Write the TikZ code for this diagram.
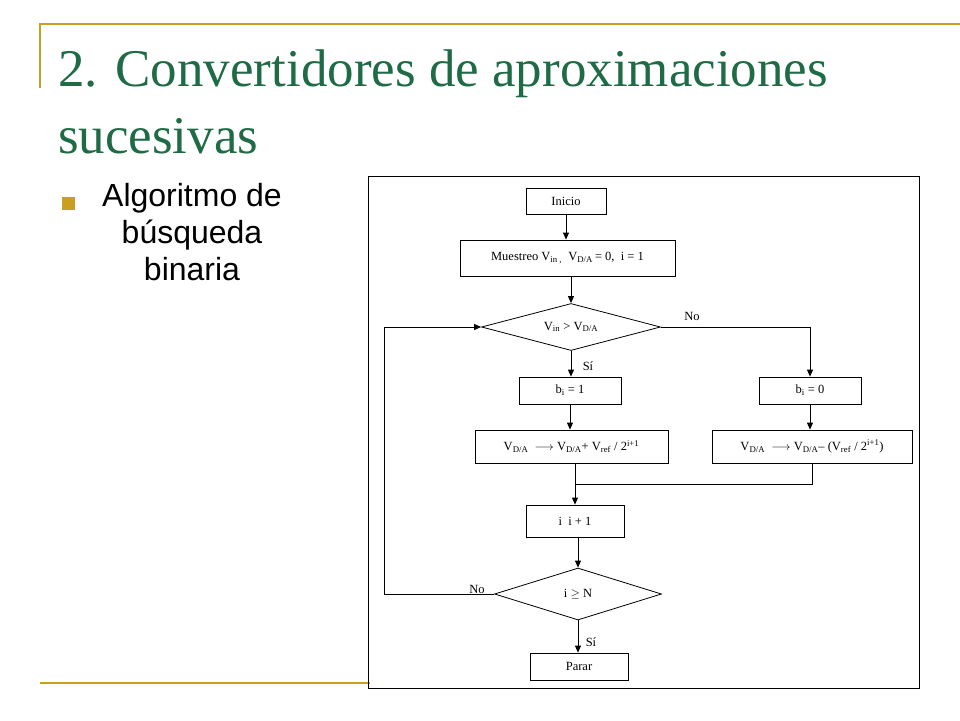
\documentclass[tikz,border=0pt]{standalone}
\usepackage{fontspec}
\setmainfont{Liberation Serif}
\newfontfamily\sansf{Liberation Sans}
\usetikzlibrary{shapes.geometric,arrows.meta}
\definecolor{gold}{HTML}{C8A020}
\definecolor{ttl}{HTML}{1E6B45}
\tikzset{
 box/.style={draw,line width=0.8pt,minimum height=#1,inner sep=0pt,font=\fontsize{12.5}{14}\selectfont},
 conn/.style={draw,line width=0.8pt,-{Triangle[length=7pt,width=6pt]}},
 lab/.style={font=\fontsize{12.5}{14}\selectfont,inner sep=0pt}
}
\begin{document}
\begin{tikzpicture}[x=1pt,y=-1pt]
\useasboundingbox (0,0) rectangle (960,720);
\fill[white] (0,0) rectangle (960,720);
% gold frame
\draw[gold,line width=1.5pt] (40,88) -- (40,24) -- (960,24);
\draw[gold,line width=1.5pt] (40,683) -- (370,683);
% title
\node[anchor=base west,text=ttl,font=\fontsize{53}{56}\selectfont,inner sep=0pt] (t1) at (58,86) {2. Convertidores de aproximaciones};
\node[anchor=base west,text=ttl,font=\fontsize{53}{56}\selectfont,inner sep=0pt] (t2) at (58,153) {sucesivas};
% bullet
\fill[gold] (62,197) rectangle (75,210);
\node[font=\sansf\fontsize{32}{37}\selectfont,align=center,anchor=north,inner sep=0pt] (b) at (192,183) {Algoritmo de\\búsqueda\\binaria};
% flow frame
\draw[line width=0.8pt] (368,176) rectangle (919,688);
\node[box=26pt,minimum width=80pt] (ini) at (566,201) {Inicio};
\node[box=36pt,minimum width=215pt] (mue) at (567.5,258) {Muestreo V\textsubscript{in ,}\ \ V\textsubscript{D/A}\,= 0,\ \ i = 1};
\node[diamond,aspect=3.8,draw,line width=0.8pt,minimum width=179pt,minimum height=47pt,inner sep=0pt,font=\fontsize{12.5}{14}\selectfont] (d1) at (571,327) {V\textsubscript{in} > V\textsubscript{D/A}};
\node[box=27pt,minimum width=102pt] (b1) at (570,390.5) {b\textsubscript{i} = 1};
\node[box=27pt,minimum width=102pt] (b0) at (810,390.5) {b\textsubscript{i} = 0};
\node[box=33pt,minimum width=193pt] (v1) at (571.5,446.5) {V\textsubscript{D/A}\ \ $\longrightarrow$ V\textsubscript{D/A}+ V\textsubscript{ref} / 2\textsuperscript{i+1}};
\node[box=33pt,minimum width=200pt] (v0) at (812,446.5) {V\textsubscript{D/A}\ \ $\longrightarrow$ V\textsubscript{D/A}-- (V\textsubscript{ref} / 2\textsuperscript{i+1})};
\node[box=32pt,minimum width=98pt] (ii) at (575,521) {i\ \ i + 1};
\node[diamond,aspect=3.2,draw,line width=0.8pt,minimum width=167pt,minimum height=52pt,inner sep=0pt,font=\fontsize{12.5}{14}\selectfont] (d2) at (578,594) {i $\geq$ N};
\node[box=27pt,minimum width=98pt] (par) at (579,666.5) {Parar};
\coordinate (j) at (575,484);
\coordinate (lp) at (384,594);
\coordinate (lq) at (384,327);
\draw[conn] (ini) -- (ini|-mue.north);
\draw[conn] (mue.south-|d1) -- (d1.north);
\draw[conn] (d1.south) -- (b1.north-|d1.south);
\draw[conn] (d1.east) -| (b0.north);
\draw[conn] (b1) -- (v1.north-|b1);
\draw[conn] (b0) -- (v0.north-|b0);
\draw[line width=0.8pt] (v1.south-|j) -- (j) -| (v0.south);
\draw[conn] (j) -- (ii.north);
\draw[conn] (ii.south-|d2) -- (d2.north);
\draw[conn] (d2.south) -- (par.north-|d2.south);
\draw[conn] (d2.west) -- (lp) -- (lq) -- (d1.west);
\node[lab] (l1) at (692,316) {No};
\node[lab] (l2) at (588,366) {Sí};
\node[lab] (l3) at (477,589) {No};
\node[lab] (l4) at (591,642) {Sí};
\end{tikzpicture}
\end{document}
